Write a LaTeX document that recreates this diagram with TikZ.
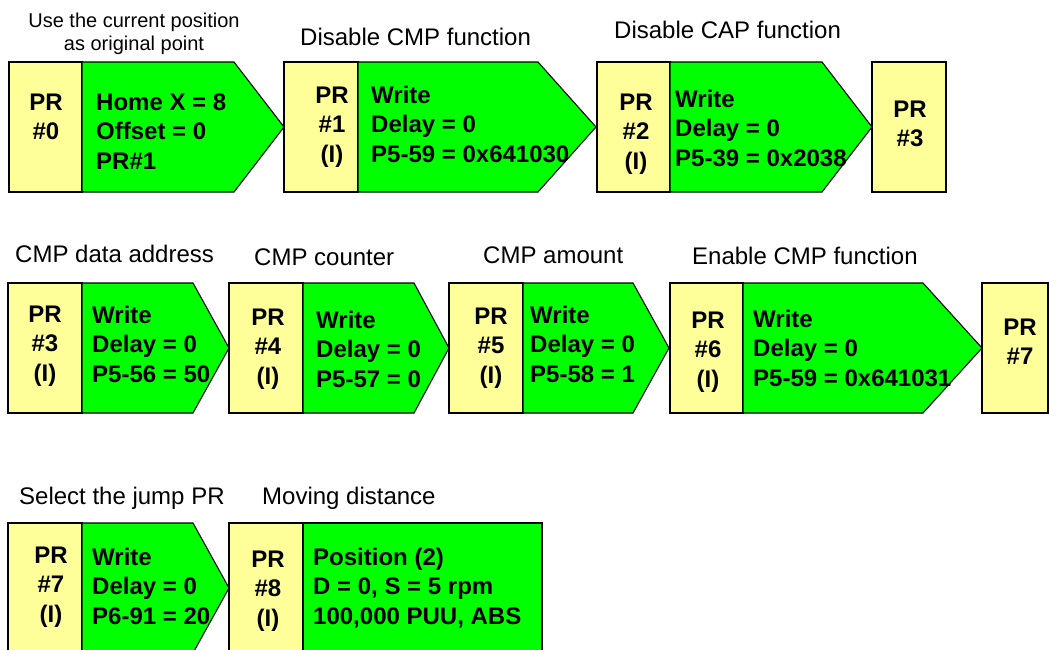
\documentclass[tikz,border=0pt]{standalone}
\usepackage{fontspec}
\setmainfont{Liberation Sans}
\definecolor{yellowfill}{RGB}{255,255,153}
\definecolor{greenfill}{RGB}{0,255,0}
\newcommand\Lft[1]{\vtop{\baselineskip=29.5pt\lineskiplimit=-20pt\halign{##\hfil\cr#1\crcr}}}
\newcommand\Ctr[1]{\vtop{\baselineskip=29.5pt\lineskiplimit=-20pt\halign{\hfil##\hfil\cr#1\crcr}}}
\newcommand\CtrS[1]{\vtop{\baselineskip=23pt\lineskiplimit=-20pt\halign{\hfil##\hfil\cr#1\crcr}}}
\tikzset{
  yel/.style={fill=yellowfill, draw=black, line width=1.1pt},
  grn/.style={fill=greenfill, draw=black, line width=1.1pt, line join=miter},
  bt/.style={inner sep=0pt, font=\fontsize{24}{29.5}\selectfont\bfseries},
  lb/.style={inner sep=0pt, font=\fontsize{24}{29}\selectfont, anchor=base west},
}
\begin{document}
\begin{tikzpicture}[x=1pt, y=-1pt]
\useasboundingbox (0,0) rectangle (1049,649);
\clip (0,0) rectangle (1049,649);
% ---------- Row 1 ----------
\path[yel] (9,62) rectangle (82,192);
\path[grn] (82,62) -- (234,62) -- (284,127) -- (234,192) -- (82,192) -- cycle;
\path[yel] (284,62) rectangle (358,192);
\path[grn] (358,62) -- (538,62) -- (596,127) -- (538,192) -- (358,192) -- cycle;
\path[yel] (597,62) rectangle (670,192);
\path[grn] (670,62) -- (822,62) -- (872,127) -- (822,192) -- (670,192) -- cycle;
\path[yel] (872,62) rectangle (946,192);

\node[inner sep=0pt, font=\fontsize{20}{23}\selectfont, anchor=base] (l0) at (134,27) {\CtrS{Use the current position\cr as original point}};
\node[lb] (l1) at (300,45) {Disable CMP function};
\node[lb] (l2) at (614,38) {Disable CAP function};

\node[bt, anchor=base] (p0) at (46,110) {\Ctr{PR\cr \#0}};
\node[bt, anchor=base west] (g0) at (96,110) {\Lft{Home X = 8\cr Offset = 0\cr PR\#1}};
\node[bt, anchor=base] (p1) at (332,103) {\Ctr{PR\cr \#1\cr (I)}};
\node[bt, anchor=base west] (g1) at (371,103) {\Lft{Write\cr Delay = 0\cr P5-59 = 0x641030}};
\node[bt, anchor=base] (p2) at (636,110) {\Ctr{PR\cr \#2\cr (I)}};
\node[bt, anchor=base west] (g2) at (675,107) {\Lft{Write\cr Delay = 0\cr P5-39 = 0x2038}};
\node[bt, anchor=base] (p3a) at (910,117) {\Ctr{PR\cr \#3}};

% ---------- Row 2 ----------
\path[yel] (8,283) rectangle (82,413);
\path[grn] (82,283) -- (193,283) -- (229,348) -- (193,413) -- (82,413) -- cycle;
\path[yel] (229,283) rectangle (303,413);
\path[grn] (303,283) -- (414,283) -- (449,348) -- (414,413) -- (303,413) -- cycle;
\path[yel] (449,283) rectangle (523,413);
\path[grn] (523,283) -- (633,283) -- (669,348) -- (633,413) -- (523,413) -- cycle;
\path[yel] (670,283) rectangle (743,413);
\path[grn] (743,283) -- (923,283) -- (982,348) -- (923,413) -- (743,413) -- cycle;
\path[yel] (982,283) rectangle (1048,413);

\node[lb] (l3) at (15,262) {CMP data address};
\node[lb] (l4) at (254,265) {CMP counter};
\node[lb] (l5) at (483,263) {CMP amount};
\node[lb] (l6) at (692,264) {Enable CMP function};

\node[bt, anchor=base] (p3) at (45,322) {\Ctr{PR\cr \#3\cr (I)}};
\node[bt, anchor=base west] (g3) at (92,323) {\Lft{Write\cr Delay = 0\cr P5-56 = 50}};
\node[bt, anchor=base] (p4) at (268,325) {\Ctr{PR\cr \#4\cr (I)}};
\node[bt, anchor=base west] (g4) at (316,328) {\Lft{Write\cr Delay = 0\cr P5-57 = 0}};
\node[bt, anchor=base] (p5) at (491,324) {\Ctr{PR\cr \#5\cr (I)}};
\node[bt, anchor=base west] (g5) at (530,323) {\Lft{Write\cr Delay = 0\cr P5-58 = 1}};
\node[bt, anchor=base] (p6) at (708,328) {\Ctr{PR\cr \#6\cr (I)}};
\node[bt, anchor=base west] (g6) at (753,327) {\Lft{Write\cr Delay = 0\cr P5-59 = 0x641031}};
\node[bt, anchor=base] (p7a) at (1020,335) {\Ctr{PR\cr \#7}};

% ---------- Row 3 ----------
\path[yel] (8,523) rectangle (82,653);
\path[grn] (82,523) -- (193,523) -- (229,588) -- (193,653) -- (82,653) -- cycle;
\path[yel] (229,523) rectangle (303,653);
\path[grn] (303,523) rectangle (542,653);

\node[lb] (l7) at (19,504) {Select the jump PR};
\node[lb] (l8) at (262,504) {Moving distance};

\node[bt, anchor=base] (p7) at (51,563) {\Ctr{PR\cr \#7\cr (I)}};
\node[bt, anchor=base west] (g7) at (92,565) {\Lft{Write\cr Delay = 0\cr P6-91 = 20}};
\node[bt, anchor=base] (p8) at (268,567) {\Ctr{PR\cr \#8\cr (I)}};
\node[bt, anchor=base west] (g8) at (313,565) {\Lft{Position (2)\cr D = 0, S = 5 rpm\cr 100,000 PUU, ABS}};
\end{tikzpicture}
\end{document}
